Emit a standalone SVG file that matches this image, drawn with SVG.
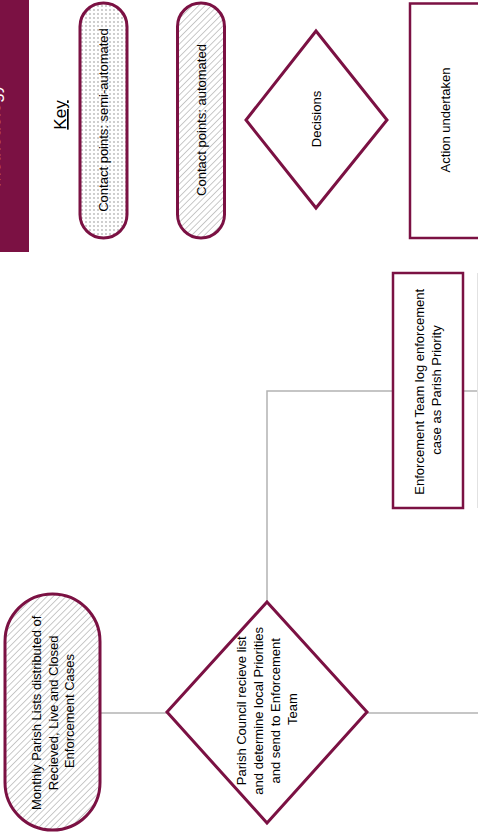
<svg xmlns="http://www.w3.org/2000/svg" width="478" height="832" viewBox="0 0 478 832">
<defs>
<pattern id="dots" width="4" height="4" patternUnits="userSpaceOnUse">
<rect width="4" height="4" fill="#ffffff"/>
<circle cx="2" cy="2" r="0.7" fill="#7a7a7a"/>
</pattern>
<pattern id="hatch" width="4.5" height="4.5" patternUnits="userSpaceOnUse" patternTransform="rotate(45)">
<rect width="4.5" height="4.5" fill="#ffffff"/>
<line x1="0" y1="0" x2="0" y2="4.5" stroke="#959595" stroke-width="1"/>
</pattern>
<style>
.shape{stroke:#7b1143;stroke-width:3;}
.rectnode{stroke:#7b1143;stroke-width:2.5;fill:#ffffff;}
.lbl{font-family:"Liberation Sans",Arial,sans-serif;font-size:13px;fill:#000000;text-anchor:middle;}
.conn{stroke:#b3b3b3;stroke-width:1.5;fill:none;}
</style>
</defs>
<rect width="478" height="832" fill="#ffffff"/>

<g id="banner">
<rect x="0" y="0" width="29" height="252" fill="#7b1143"/>
<text transform="translate(0,84) rotate(-90)" text-anchor="end" font-family="'Liberation Sans',Arial,sans-serif" font-size="18" fill="#ffffff">Methodology</text>
</g>

<g id="key-title">
<text class="lbl" transform="translate(66,115) rotate(-90)" style="font-size:17px;text-decoration:underline">Key</text>
</g>

<g id="key-semi">
<rect class="shape" x="80" y="3" width="47" height="235" rx="23.5" fill="url(#dots)"/>
<text class="lbl" transform="translate(103.5,120) rotate(-90)" y="4.5">Contact points: semi-automated</text>
</g>

<g id="key-auto">
<rect class="shape" x="177.5" y="3" width="47" height="235" rx="23.5" fill="url(#hatch)"/>
<text class="lbl" transform="translate(201,120) rotate(-90)" y="4.5">Contact points: automated</text>
</g>

<g id="key-decision">
<polygon class="shape" points="316,31 387,120 316,208 246,120" fill="#ffffff"/>
<text class="lbl" transform="translate(316,119) rotate(-90)" y="4.5">Decisions</text>
</g>

<g id="key-action">
<rect class="rectnode" x="410" y="3.5" width="72" height="234.5"/>
<text class="lbl" transform="translate(445,120) rotate(-90)" y="4.5">Action undertaken</text>
</g>

<g id="connectors">
<line class="conn" x1="100" y1="713" x2="167" y2="713"/>
<polyline class="conn" points="267,602 267,391 393,391"/>
<line class="conn" x1="463" y1="391" x2="478" y2="391"/>
<line class="conn" x1="367" y1="713" x2="478" y2="713"/>
</g>

<g id="monthly-lists">
<rect class="shape" x="5" y="594" width="95" height="236" rx="47.5" fill="url(#hatch)"/>
<text class="lbl" transform="translate(0,711) rotate(-90)">
<tspan x="0" y="41">Monthly Parish Lists distributed of</tspan>
<tspan x="0" y="57.5">Recieved, Live and Closed</tspan>
<tspan x="0" y="74">Enforcement Cases</tspan>
</text>
</g>

<g id="parish-council">
<polygon class="shape" points="267,602 367,712 267,823 167,712" fill="#ffffff"/>
<text class="lbl" transform="translate(0,709) rotate(-90)">
<tspan x="0" y="246">Parish Council  recieve list</tspan>
<tspan x="0" y="263">and determine local Priorities</tspan>
<tspan x="0" y="280">and send to Enforcement</tspan>
<tspan x="0" y="297">Team</tspan>
</text>
</g>

<g id="enforcement-log">
<rect class="rectnode" x="393" y="273" width="70" height="235"/>
<text class="lbl" transform="translate(0,390) rotate(-90)">
<tspan x="0" y="424">Enforcement Team log enforcement</tspan>
<tspan x="0" y="441">case as Parish Priority</tspan>
</text>
</g>

<g id="next-node">
<line x1="477.5" y1="273" x2="477.5" y2="508" stroke="#e2e2e2" stroke-width="1"/>
</g>
</svg>
